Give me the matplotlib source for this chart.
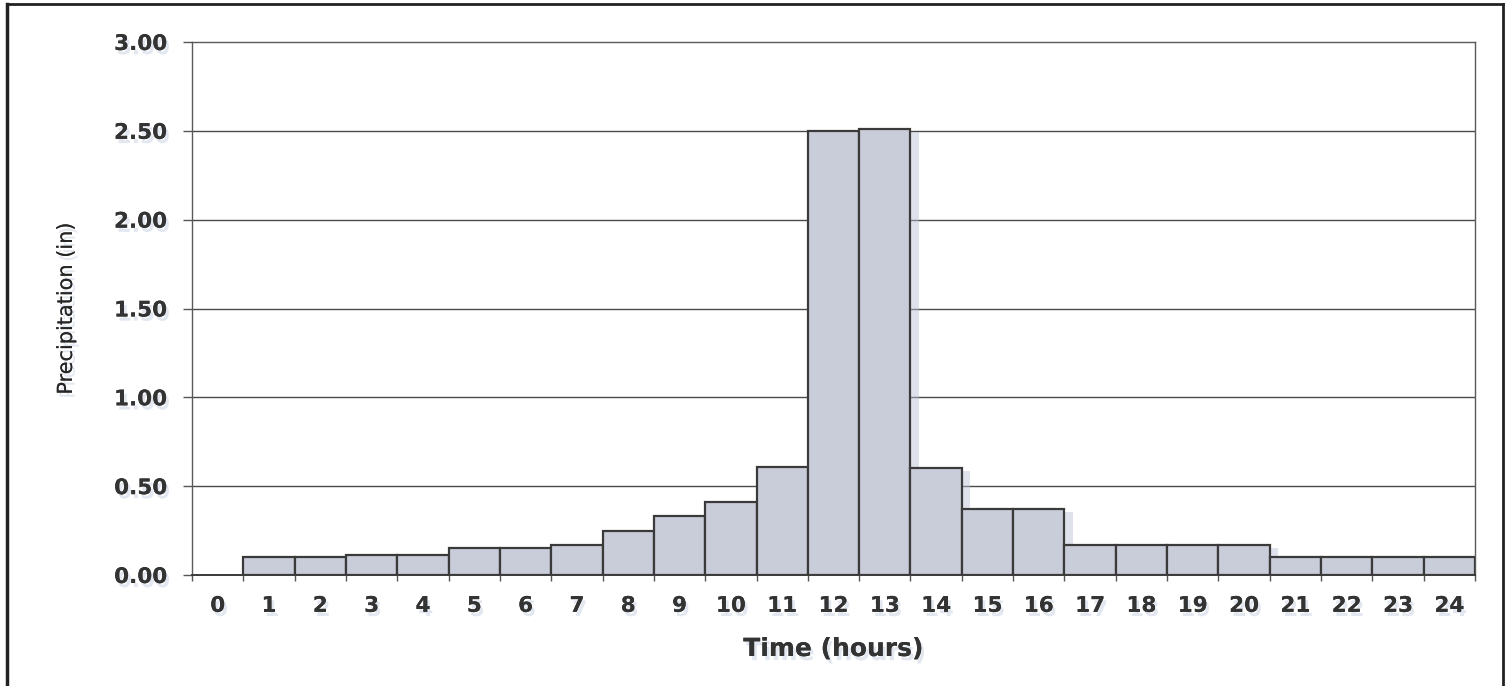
import matplotlib
matplotlib.use("Agg")
import matplotlib.pyplot as plt
import matplotlib.patheffects as pe
from matplotlib.lines import Line2D
import numpy as np

hours = list(range(1, 25))
precip = [0.10, 0.10, 0.11, 0.11, 0.15, 0.15, 0.17, 0.25, 0.33, 0.41, 0.61, 2.50,
          2.51, 0.60, 0.37, 0.37, 0.17, 0.17, 0.17, 0.17, 0.10, 0.10, 0.10, 0.10]
x_labels = [str(i) for i in range(0, 25)]
y_ticks = [0.0, 0.5, 1.0, 1.5, 2.0, 2.5, 3.0]
y_labels = ["0.00", "0.50", "1.00", "1.50", "2.00", "2.50", "3.00"]

W, H = 1512, 686
fig = plt.figure(figsize=(W / 100, H / 100), dpi=100)
fig.patch.set_facecolor("white")

left, right = 192 / W, 1475 / W
bottom, top = 1 - 575 / H, 1 - 42 / H
ax = fig.add_axes([left, bottom, right - left, top - bottom])

shadow = [pe.withSimplePatchShadow(offset=(2, -3), shadow_rgbFace="#9fb0d0", alpha=0.3)]

ax.set_xlim(-0.5, 24.5)
ax.set_ylim(0, 3.0)

for y in y_ticks[1:-1]:
    ax.axhline(y, color="#4a4a4a", lw=1.0, zorder=1)

bars = ax.bar(hours, precip, width=1.0, align="center", color="#c9cdd9",
              edgecolor="#3a3a3a", linewidth=1.6, zorder=3)
for b in bars:
    b.set_path_effects([pe.withSimplePatchShadow(offset=(6, -2), shadow_rgbFace="#b8c0d4", alpha=0.45)])

for s in ["top", "right", "left", "bottom"]:
    ax.spines[s].set_color("#5a5a5a")
    ax.spines[s].set_linewidth(1.0)
ax.spines["bottom"].set_color("#3a3a3a")
ax.spines["bottom"].set_linewidth(1.4)

tick_font = dict(fontfamily="DejaVu Sans", fontweight="bold", fontsize=15.5, color="#333333")

ax.set_yticks(y_ticks)
ax.set_yticklabels(y_labels, **tick_font)
ax.tick_params(axis="y", direction="out", length=6.5, width=1.0, color="#555555", pad=11.5)

# major ticks at bar boundaries, labels at integer positions
ax.set_xticks(np.arange(-0.5, 25.0, 1.0))
ax.set_xticklabels([])
ax.set_xticks(range(0, 25), minor=True)
ax.set_xticklabels(x_labels, minor=True, **tick_font)
ax.tick_params(axis="x", which="major", direction="out", length=4.3, width=1.0, color="#555555")
ax.tick_params(axis="x", which="minor", length=0, pad=15)

for t in ax.get_yticklabels() + ax.get_xticklabels(minor=True):
    t.set_path_effects(shadow + [pe.Normal()])

ax.set_xlabel("Time (hours)", fontfamily="DejaVu Sans", fontweight="bold",
              fontsize=18, color="#333333",
              path_effects=shadow + [pe.Normal()])
ax.xaxis.set_label_coords(0.5, (575 - 637) / 533)
ax.set_ylabel("Precipitation (in)", fontfamily="DejaVu Sans", fontsize=15,
              color="#262626",
              path_effects=shadow + [pe.Normal()])
ax.yaxis.set_label_coords((76 - 192) / 1283, 0.5)

# outer frame
fig.add_artist(Line2D([7 / W, 7 / W], [0, 1 - 4 / H], transform=fig.transFigure, color="#222222", lw=2.5))
fig.add_artist(Line2D([7 / W, 1503 / W], [1 - 4 / H, 1 - 4 / H], transform=fig.transFigure, color="#222222", lw=2.0))
fig.add_artist(Line2D([1503 / W, 1503 / W], [0, 1 - 4 / H], transform=fig.transFigure, color="#222222", lw=2.0))

fig.savefig("out.png", dpi=100, facecolor="white")
